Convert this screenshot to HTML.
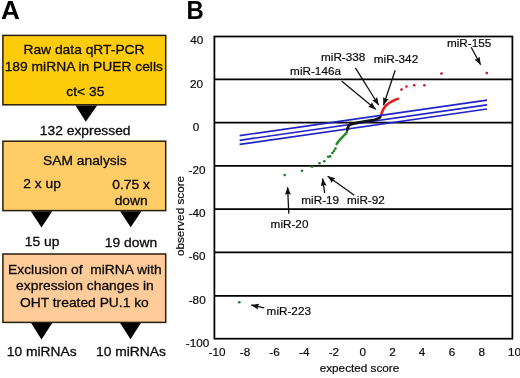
<!DOCTYPE html>
<html>
<head>
<meta charset="utf-8">
<title>Figure</title>
<style>
html,body{margin:0;padding:0;background:#fff;}
body{width:520px;height:378px;overflow:hidden;}
svg{display:block;will-change:transform;}
text{font-family:"Liberation Sans",sans-serif;fill:#0a0a0a;stroke:#0a0a0a;stroke-width:0.3px;white-space:pre;}
.c text{stroke-width:0.2px;}
.lbl{font-size:26px;font-weight:bold;fill:#000;stroke:none;}
.grid{stroke:#000;stroke-width:1.75;fill:none;}
.blue{stroke:#2424c6;stroke-width:1.7;fill:none;}
.arr{stroke:#111;stroke-width:1.3;fill:none;}
.gd{fill:#1d7d28;}
.rd{fill:#d41420;}
.box{stroke:#2a1e0a;stroke-width:1.5;}
</style>
</head>
<body>
<svg width="520" height="378" viewBox="0 0 520 378">
<defs>
<marker id="ah" viewBox="0 0 10 10" refX="9.6" refY="5" markerWidth="7.8" markerHeight="7.8" markerUnits="userSpaceOnUse" orient="auto">
<path d="M0,1.2 L10,5 L0,8.8 L1.2,5 Z" fill="#111"/>
</marker>
</defs>
<rect x="0" y="0" width="520" height="378" fill="#fff"/>

<!-- Panel A -->
<text class="lbl" transform="translate(1.0,18.6) scale(1.035,1)" style="font-size:25.2px">A</text>
<rect class="box" x="2.9" y="35.4" width="162.8" height="69.4" fill="#ffcc0c"/>
<rect class="box" x="2.9" y="141.2" width="162.8" height="69.4" fill="#ffcc66"/>
<rect class="box" x="2.9" y="254.0" width="162.8" height="68.4" fill="#ffcc99"/>
<text transform="translate(84.0,54.1) scale(1.032,1)" font-size="13.4" text-anchor="middle">Raw data qRT-PCR</text>
<text transform="translate(83.8,70.7) scale(1.032,1)" font-size="13.4" text-anchor="middle">189 miRNA in PUER cells</text>
<text transform="translate(85.3,96.0) scale(1.032,1)" font-size="13.4" text-anchor="middle">ct&lt; 35</text>
<text transform="translate(85.2,134.5) scale(1.032,1)" font-size="13.4" text-anchor="middle">132 expressed</text>
<text transform="translate(84.85,165.0) scale(1.032,1)" font-size="13.4" text-anchor="middle">SAM analysis</text>
<text transform="translate(42.0,188.4) scale(1.032,1)" font-size="13.4" text-anchor="middle">2 x up</text>
<text transform="translate(131.05,188.5) scale(1.032,1)" font-size="13.4" text-anchor="middle">0.75 x</text>
<text transform="translate(131.2,204.6) scale(1.032,1)" font-size="13.4" text-anchor="middle">down</text>
<text transform="translate(42.1,246.4) scale(1.032,1)" font-size="13.4" text-anchor="middle">15 up</text>
<text transform="translate(131.0,246.6) scale(1.032,1)" font-size="13.4" text-anchor="middle">19 down</text>
<text transform="translate(84.85,273.7) scale(1.032,1)" font-size="13.4" text-anchor="middle">Exclusion of  miRNA with</text>
<text transform="translate(84.9,289.6) scale(1.032,1)" font-size="13.4" text-anchor="middle">expression changes in</text>
<text transform="translate(84.4,306.7) scale(1.032,1)" font-size="13.4" text-anchor="middle">OHT treated PU.1 ko</text>
<text transform="translate(41.7,356.3) scale(1.032,1)" font-size="13.4" text-anchor="middle">10 miRNAs</text>
<text transform="translate(131.0,356.3) scale(1.032,1)" font-size="13.4" text-anchor="middle">10 miRNAs</text>
<path d="M75.5,105.5L97.1,105.5L85.8,121.8Z" fill="#000"/>
<path d="M30.8,211.2L52.2,211.2L41.5,227.4Z" fill="#000"/>
<path d="M120.1,211.2L141.4,211.2L130.7,227.3Z" fill="#000"/>
<path d="M31.1,323.0L52.2,323.0L41.5,339.6Z" fill="#000"/>
<path d="M120.1,323.0L140.9,323.0L130.5,339.2Z" fill="#000"/>
<!-- Panel B -->
<g class="c">
<text class="lbl" transform="translate(186.4,18.7) scale(0.935,1)" style="font-size:25.6px">B</text>
<rect class="grid" x="214.4" y="36.5" width="298.0" height="302.2"/>
<path class="grid" d="M214.4,79.3H512.4 M214.4,122.7H512.4 M214.4,165.8H512.4 M214.4,209.2H512.4 M214.4,252.4H512.4 M214.4,295.9H512.4"/>
<text transform="translate(196.7,44.3) scale(1.04,1)" font-size="11.3" text-anchor="middle">40</text>
<text transform="translate(196.5,87.7) scale(1.04,1)" font-size="11.3" text-anchor="middle">20</text>
<text transform="translate(195.9,131.0) scale(1.04,1)" font-size="11.3" text-anchor="middle">0</text>
<text transform="translate(197.1,174.0) scale(1.04,1)" font-size="11.3" text-anchor="middle">-20</text>
<text transform="translate(197.0,216.9) scale(1.04,1)" font-size="11.3" text-anchor="middle">-40</text>
<text transform="translate(197.0,259.8) scale(1.04,1)" font-size="11.3" text-anchor="middle">-60</text>
<text transform="translate(197.2,303.9) scale(1.04,1)" font-size="11.3" text-anchor="middle">-80</text>
<text transform="translate(197.6,346.8) scale(1.04,1)" font-size="11.3" text-anchor="middle">-100</text>
<text transform="translate(217.0,356.1) scale(1.04,1)" font-size="11.3" text-anchor="middle">-10</text>
<text transform="translate(245.0,356.1) scale(1.04,1)" font-size="11.3" text-anchor="middle">-8</text>
<text transform="translate(274.5,356.1) scale(1.04,1)" font-size="11.3" text-anchor="middle">-6</text>
<text transform="translate(304.3,356.1) scale(1.04,1)" font-size="11.3" text-anchor="middle">-4</text>
<text transform="translate(333.9,356.1) scale(1.04,1)" font-size="11.3" text-anchor="middle">-2</text>
<text transform="translate(362.7,356.1) scale(1.04,1)" font-size="11.3" text-anchor="middle">0</text>
<text transform="translate(392.5,356.1) scale(1.04,1)" font-size="11.3" text-anchor="middle">2</text>
<text transform="translate(422.1,356.1) scale(1.04,1)" font-size="11.3" text-anchor="middle">4</text>
<text transform="translate(452.0,356.1) scale(1.04,1)" font-size="11.3" text-anchor="middle">6</text>
<text transform="translate(481.7,356.1) scale(1.04,1)" font-size="11.3" text-anchor="middle">8</text>
<text transform="translate(514.5,356.1) scale(1.04,1)" font-size="11.3" text-anchor="middle">10</text>
<text transform="translate(359.5,372.2) scale(1.04,1)" font-size="11.3" text-anchor="middle">expected score</text>
<text transform="translate(183.9,216) rotate(-90) scale(1.04,1)" font-size="11.3" text-anchor="middle">observed score</text>
<g class="gd"><circle cx="239.3" cy="302.3" r="1.32"/><circle cx="284.7" cy="175.1" r="1.32"/><circle cx="302" cy="170.8" r="1.32"/><circle cx="312.1" cy="166.7" r="1.32"/><circle cx="319.5" cy="163.3" r="1.32"/><circle cx="324.3" cy="161.2" r="1.32"/><circle cx="328.2" cy="156.8" r="1.32"/><circle cx="330.2" cy="156.4" r="1.32"/><circle cx="332.4" cy="153" r="1.32"/><circle cx="334" cy="150.9" r="1.32"/><circle cx="335.4" cy="148.6" r="1.32"/></g>
<path d="M336.6,144 L340,139.6 L343.5,136 L346,133.4 L346.9,132" stroke="#1e8c1e" stroke-width="2.5" fill="none" stroke-linecap="round" stroke-linejoin="round"/>
<path d="M380.6,116.5 L381.5,113.5 L383,109.8 L384.8,107 L386.4,105.1 L389,103 L392.5,101.1 L395,99.9 L397.9,98.9" stroke="#ee1515" stroke-width="2.5" fill="none" stroke-linecap="round" stroke-linejoin="round"/>
<g class="rd"><circle cx="401.5" cy="89.6" r="1.32"/><circle cx="406.4" cy="86.5" r="1.32"/><circle cx="414.2" cy="85.3" r="1.32"/><circle cx="424.4" cy="85.3" r="1.32"/><circle cx="441.5" cy="73.6" r="1.32"/><circle cx="486.8" cy="73.1" r="1.32"/></g>
<path class="blue" d="M239.6,135.6L487,100.2 M239.6,140.3L487,104.8 M239.6,144.4L487,109.0"/>
<path d="M347.3,130 L347.7,127.8 L348.8,125.6 L350.6,124.4 L355,123.2 L365,121.4 L374.6,119.8 L378,118.6 L380,117.4" stroke="#111" stroke-width="2.7" fill="none" stroke-linecap="round" stroke-linejoin="round"/>
<text transform="translate(446.9,47.3) scale(1.04,1)" font-size="11.3" text-anchor="start">miR-155</text>
<path class="arr" d="M471.2,47.3L480.6,64.8" marker-end="url(#ah)"/>
<text transform="translate(373.8,63.0) scale(1.04,1)" font-size="11.3" text-anchor="start">miR-342</text>
<path class="arr" d="M395.2,70.3L383.5,105.2" marker-end="url(#ah)"/>
<text transform="translate(321.0,61.0) scale(1.04,1)" font-size="11.3" text-anchor="start">miR-338</text>
<path class="arr" d="M355.4,67.8L378.6,105.0" marker-end="url(#ah)"/>
<text transform="translate(290.1,75.0) scale(1.04,1)" font-size="11.3" text-anchor="start">miR-146a</text>
<path class="arr" d="M341.6,81.1L375.7,109.2" marker-end="url(#ah)"/>
<text transform="translate(270.6,228.3) scale(1.04,1)" font-size="11.3" text-anchor="start">miR-20</text>
<path class="arr" d="M288.8,213.8L287.6,187.2" marker-end="url(#ah)"/>
<text transform="translate(301.3,204.4) scale(1.04,1)" font-size="11.3" text-anchor="start">miR-19</text>
<path class="arr" d="M324.7,193.2L322.6,178.6" marker-end="url(#ah)"/>
<text transform="translate(347.0,204.4) scale(1.04,1)" font-size="11.3" text-anchor="start">miR-92</text>
<path class="arr" d="M354.3,195.3L327.7,176.3" marker-end="url(#ah)"/>
<text transform="translate(266.6,315.4) scale(1.04,1)" font-size="11.3" text-anchor="start">miR-223</text>
<path class="arr" d="M264.2,307.9L251.3,305.0" marker-end="url(#ah)"/>
</g>
</svg>
</body>
</html>
